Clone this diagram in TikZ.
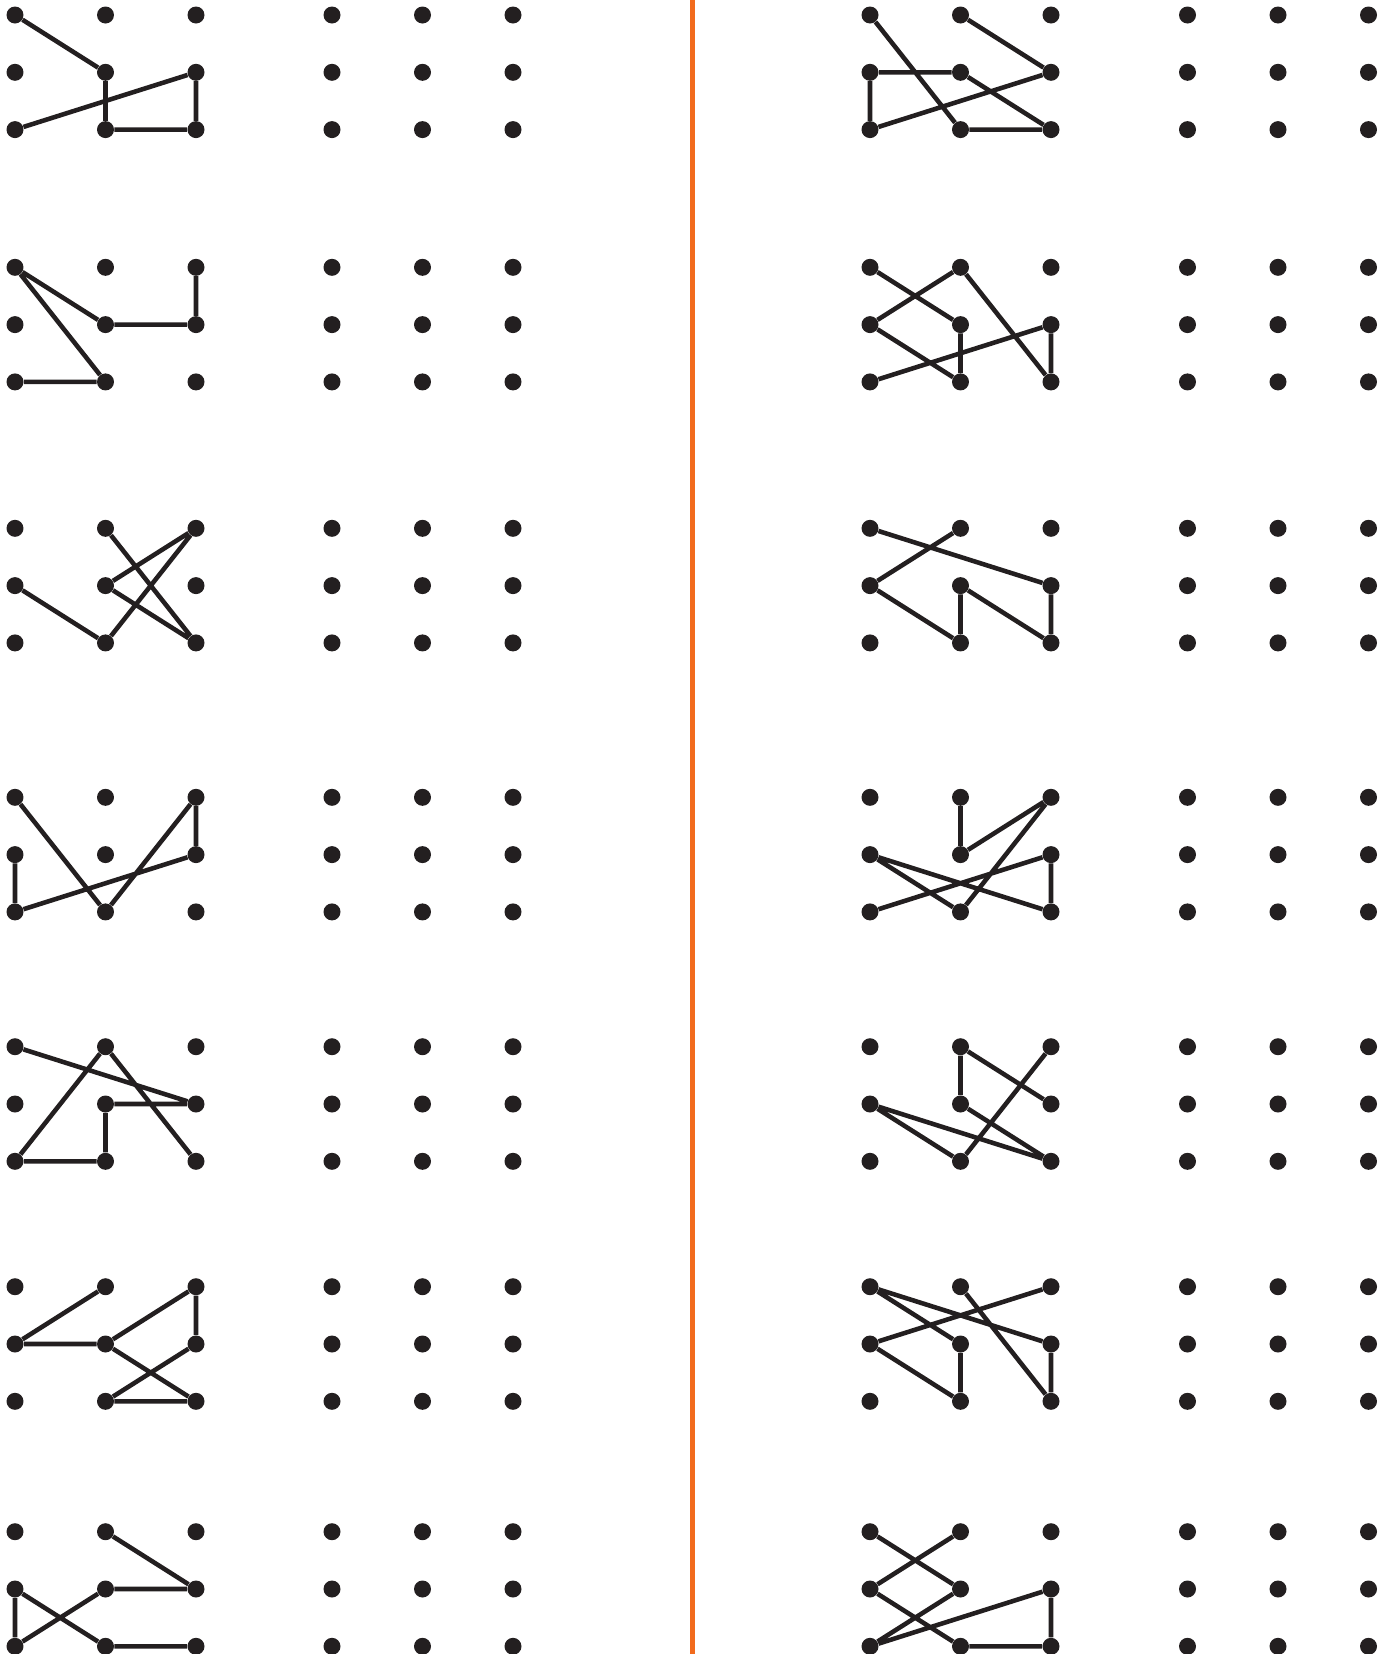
\documentclass[tikz,border=0pt]{standalone}
\usepackage{tikz}
\usetikzlibrary{positioning}
\definecolor{InkBlack}{HTML}{231F20}
\definecolor{CutOrange}{HTML}{F26B1D}

\begin{document}
\begin{tikzpicture}[
  x=0.02cm, y=-0.02cm,
  dot/.style={circle, fill=InkBlack, inner sep=0pt, minimum size=0.34cm},
  wire/.style={draw=InkBlack, line width=2.6pt, line join=round},
  divider/.style={draw=CutOrange, line width=2.9pt}
]
  \useasboundingbox (0,0) rectangle (1391,1654);
  % dot grids: L/R = pattern grids, LB/RB = blank grids
  \foreach \g/\yt in {1/15,2/267.3,3/528.3,4/797.3,5/1046.7,6/1286.7,7/1531.7} {
    \foreach \r in {1,2,3} {
      \foreach \c/\xl/\xlb/\xr/\xrb in {1/15/332/870/1187.5,2/105.5/422.5/960.5/1278,3/196/513/1051/1368.5} {
        \node[dot] (L\g-\c\r) at (\xl,{\yt+57.3*(\r-1)}) {};
        \node[dot] (LB\g-\c\r) at (\xlb,{\yt+57.3*(\r-1)}) {};
        \node[dot] (R\g-\c\r) at (\xr,{\yt+57.3*(\r-1)}) {};
        \node[dot] (RB\g-\c\r) at (\xrb,{\yt+57.3*(\r-1)}) {};
      }
    }
  }
  % left column patterns
  \draw[wire] (L1-11) -- (L1-22) -- (L1-23) -- (L1-33) -- (L1-32) -- (L1-13);
  \draw[wire] (L2-31) -- (L2-32) -- (L2-22) -- (L2-11) -- (L2-23) -- (L2-13);
  \draw[wire] (L3-12) -- (L3-23) -- (L3-31) -- (L3-22) -- (L3-33) -- (L3-21);
  \draw[wire] (L4-12) -- (L4-13) -- (L4-32) -- (L4-31) -- (L4-23) -- (L4-11);
  \draw[wire] (L5-11) -- (L5-32) -- (L5-22) -- (L5-23) -- (L5-13) -- (L5-21) -- (L5-33);
  \draw[wire] (L6-21) -- (L6-12) -- (L6-22) -- (L6-31) -- (L6-32) -- (L6-23) -- (L6-33) -- (L6-22);
  \draw[wire] (L7-21) -- (L7-32) -- (L7-22) -- (L7-13) -- (L7-12) -- (L7-23) -- (L7-33);
  % right column patterns
  \draw[wire] (R1-21) -- (R1-32) -- (R1-13) -- (R1-12) -- (R1-22) -- (R1-33) -- (R1-23) -- (R1-11);
  \draw[wire] (R2-11) -- (R2-22) -- (R2-23) -- (R2-12) -- (R2-21) -- (R2-33) -- (R2-32) -- (R2-13);
  \draw[wire] (R3-21) -- (R3-12) -- (R3-23) -- (R3-22) -- (R3-33) -- (R3-32) -- (R3-11);
  \draw[wire] (R4-21) -- (R4-22) -- (R4-31) -- (R4-23) -- (R4-12) -- (R4-33) -- (R4-32) -- (R4-13);
  \draw[wire] (R5-31) -- (R5-23) -- (R5-12) -- (R5-33) -- (R5-22) -- (R5-21) -- (R5-32);
  \draw[wire] (R6-31) -- (R6-12) -- (R6-23) -- (R6-22) -- (R6-11) -- (R6-32) -- (R6-33) -- (R6-21);
  \draw[wire] (R7-21) -- (R7-12) -- (R7-23) -- (R7-33) -- (R7-32) -- (R7-13) -- (R7-22) -- (R7-11);
  % fold line
  \coordinate (cutTop) at (692.7,0);
  \coordinate (cutBot) at (692.7,1654);
  \draw[divider] (cutTop) -- (cutBot);
\end{tikzpicture}
\end{document}
